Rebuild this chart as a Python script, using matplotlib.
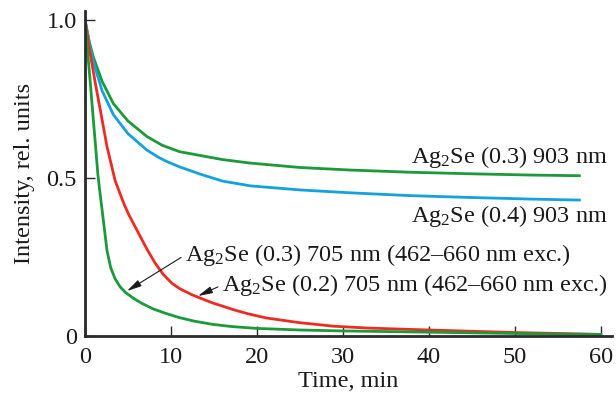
import matplotlib
matplotlib.use("Agg")
import matplotlib.pyplot as plt

plt.rcParams['font.family'] = ['Liberation Serif', 'DejaVu Serif']
plt.rcParams['mathtext.fontset'] = 'custom'
plt.rcParams['mathtext.rm'] = 'Liberation Serif'

# --- data ---
t_g903 = [0, 0.5, 1, 2, 3.3, 5, 7.2, 9, 11, 13.4, 16, 19.2, 25, 30.8, 37.8, 45, 52, 57.5]
v_g903 = [1.0, 0.93, 0.88, 0.805, 0.735, 0.68, 0.631, 0.603, 0.583, 0.571, 0.558, 0.547,
          0.533, 0.525, 0.518, 0.513, 0.509, 0.507]

t_b903 = [0, 0.5, 1, 2, 3.3, 5, 7.2, 8.5, 9.5, 11, 13.4, 16, 19.2, 25, 30.8, 37.8, 45, 52, 57.5]
v_b903 = [1.0, 0.925, 0.865, 0.775, 0.70, 0.64, 0.588, 0.566, 0.552, 0.535, 0.512, 0.49,
          0.475, 0.462, 0.453, 0.444, 0.438, 0.433, 0.430]

t_r705 = [0, 0.5, 1.2, 1.78, 2.55, 3.52, 4.5, 5.07, 6.23, 7.2, 8.17, 9.1, 10.1, 11, 12.4,
          13.4, 14.8, 17.3, 19, 21.1, 25, 28.9, 33, 40, 45, 50, 55, 60]
v_r705 = [1.0, 0.91, 0.80, 0.715, 0.60, 0.49, 0.42, 0.385, 0.325, 0.275, 0.23, 0.195,
          0.167, 0.150, 0.131, 0.120, 0.105, 0.083, 0.070, 0.057, 0.042, 0.031, 0.025,
          0.019, 0.015, 0.011, 0.008, 0.005]

t_g705 = [0, 0.3, 0.62, 0.89, 1.2, 1.5, 1.8, 2.05, 2.56, 3.0, 3.52, 4.1, 4.69, 5.6, 6.63,
          7.9, 9.34, 11, 12.7, 14.8, 17, 20, 25, 30, 37.8, 45, 50, 55, 60]
v_g705 = [1.0, 0.90, 0.80, 0.71, 0.61, 0.51, 0.44, 0.385, 0.27, 0.215, 0.18, 0.155, 0.138,
          0.12, 0.103, 0.086, 0.072, 0.058, 0.047, 0.037, 0.030, 0.024, 0.019, 0.016,
          0.013, 0.010, 0.008, 0.006, 0.005]

x_ticks = [0, 10, 20, 30, 40, 50, 60]
y_ticks = [0, 0.5, 1.0]
y_ticklabels = ['0', '0.5', '1.0']

GREEN = '#1b9a3a'
BLUE = '#13a2dd'
RED = '#ee2b22'
INK = '#1a1a1a'

fig = plt.figure(figsize=(6.16, 4.03), dpi=100)
ax = fig.add_axes([85/616, 1 - 336/403, (612-85)/616, (336-11)/403])

lw = 2.0
ax.plot(t_g903, v_g903, color=GREEN, lw=lw, solid_joinstyle='round')
ax.plot(t_b903, v_b903, color=BLUE, lw=lw, solid_joinstyle='round')
ax.plot(t_r705, v_r705, color=RED, lw=lw, solid_joinstyle='round')
ax.plot(t_g705, v_g705, color=GREEN, lw=lw, solid_joinstyle='round')

ax.set_xlim(0, 61.3)
ax.set_ylim(0, 1.028)
ax.set_xticks(x_ticks)
ax.set_yticks(y_ticks)
ax.set_yticklabels(y_ticklabels)
for s in ['top', 'right']:
    ax.spines[s].set_visible(False)
for s in ['left', 'bottom']:
    ax.spines[s].set_linewidth(2.0)
    ax.spines[s].set_color('#2a2a2a')
ax.tick_params(direction='in', length=7, width=1.0, color='#2a2a2a',
               labelsize=17.5, labelcolor=INK)
ax.tick_params(axis='x', pad=8)
ax.tick_params(axis='y', pad=6)

ax.set_xlabel('Time, min', fontsize=17.5, color=INK, labelpad=2)
ax.set_ylabel('Intensity, rel. units', fontsize=17.5, color=INK, labelpad=8)

fs = 17.5
sub = r'Ag$\mathregular{_2}$Se'


def px(xp, yp):
    return (xp, 403 - yp)


fig.text(608/616, 1 - 157/403, sub + ' (0.3) 903 nm', fontsize=fs,
         ha='right', va='center', color=INK)
fig.text(608/616, 1 - 216/403, sub + ' (0.4) 903 nm', fontsize=fs,
         ha='right', va='center', color=INK)

arrow = dict(arrowstyle='-|>,head_length=0.5,head_width=0.12', color=INK,
             lw=0.8, shrinkA=1, shrinkB=0, relpos=(0, 0.5))
ax.annotate(sub + ' (0.3) 705 nm (462–660 nm exc.)', xy=px(127, 291), xycoords='figure pixels',
            xytext=px(185, 255), textcoords='figure pixels', fontsize=fs, color=INK,
            ha='left', va='center', arrowprops=arrow)
ax.annotate(sub + ' (0.2) 705 nm (462–660 nm exc.)', xy=px(198, 296), xycoords='figure pixels',
            xytext=px(222, 285), textcoords='figure pixels', fontsize=fs, color=INK,
            ha='left', va='center', arrowprops=arrow)

fig.savefig('out.png', dpi=100)
